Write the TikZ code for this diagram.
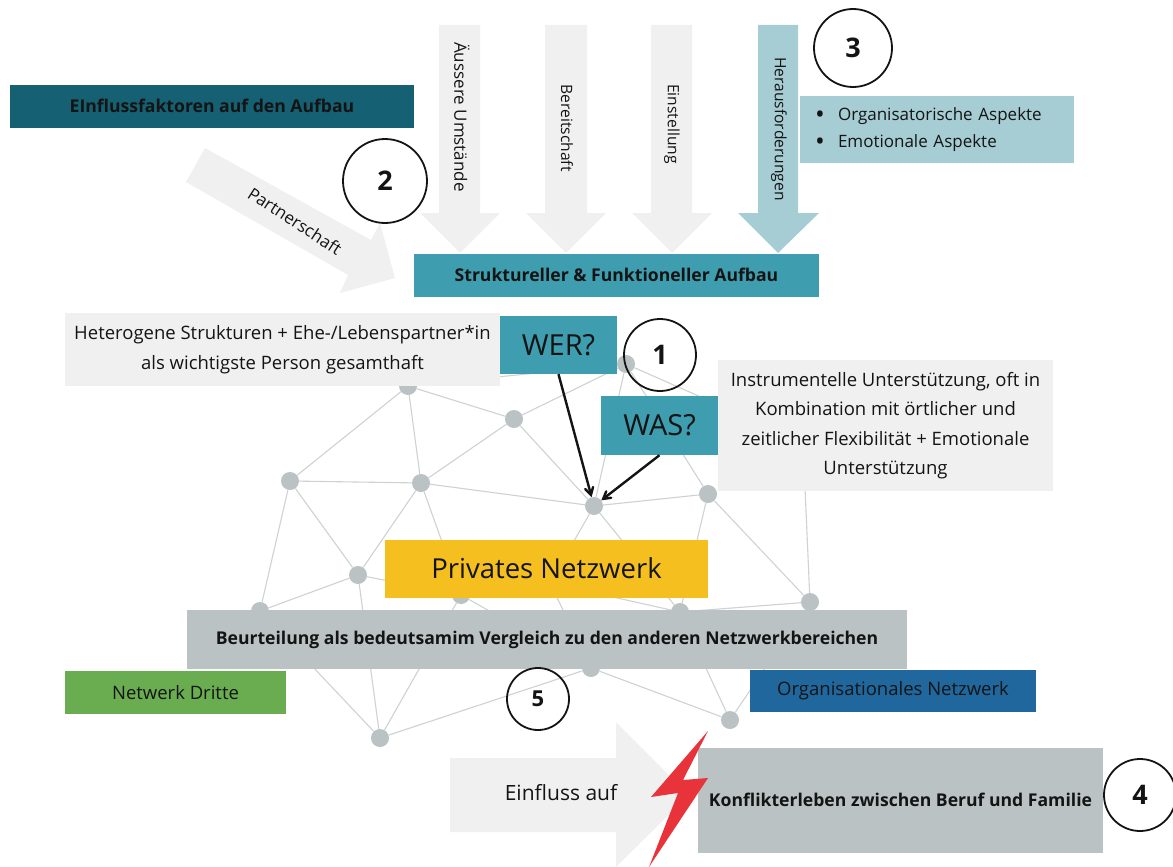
\documentclass[tikz,border=0pt]{standalone}
\usepackage{fontspec}
\setmainfont{Open Sans}
\usetikzlibrary{arrows}
\usetikzlibrary{positioning}
\definecolor{lightgray}{HTML}{F0F0F0}
\definecolor{darkteal}{HTML}{156072}
\definecolor{midteal}{HTML}{3E9DAE}
\definecolor{paleteal}{HTML}{A5CDD3}
\definecolor{netgray}{HTML}{BAC2C4}
\definecolor{netline}{HTML}{CDD2D3}
\definecolor{amber}{HTML}{F4BF1F}
\definecolor{leafgreen}{HTML}{6AAD51}
\definecolor{deepblue}{HTML}{20679E}
\definecolor{boltred}{HTML}{E8333A}
\definecolor{inkblack}{HTML}{141414}
\newcommand{\bigbullet}{\hspace*{15pt}\makebox[23pt][l]{\raisebox{-3pt}{\fontsize{26}{26}\selectfont•}}}
\begin{document}
\begin{tikzpicture}[
x=1pt, y=-1pt,
box/.style={rectangle, inner sep=0pt, align=center, text=inkblack},
normaltext/.style={font=\fontsize{18.5}{29.5}\selectfont},
boldtext/.style={font=\fontsize{17.6}{20}\selectfont\bfseries},
bigtext/.style={font=\fontsize{27.5}{30}\selectfont},
arrowtext/.style={inner sep=0pt, text=inkblack, font=\fontsize{15.6}{18}\selectfont},
netnode/.style={circle, fill=netgray, inner sep=0pt, minimum size=18pt},
edge/.style={draw=netline, line width=1.1pt},
numnode/.style={circle, draw=inkblack, line width=1.8pt, inner sep=0pt, font=\fontsize{27}{30}\selectfont\bfseries, text=inkblack},
]
\useasboundingbox (0,0) rectangle (1173,867);
\node[netnode](n1) at (626,364){};
\node[netnode](n2) at (408,386){};
\node[netnode](n3) at (514,419){};
\node[netnode](n4) at (290,481){};
\node[netnode](n5) at (421,483){};
\node[netnode](n6) at (594,506){};
\node[netnode](n7) at (708,494){};
\node[netnode](n8) at (358,575){};
\node[netnode](n9) at (461,595){};
\node[netnode](n10) at (260,611){};
\node[netnode](n11) at (680,612){};
\node[netnode](n12) at (810,602){};
\node[netnode](n13) at (591,668){};
\node[netnode](n14) at (380,738){};
\node[netnode](n15) at (730,720){};
\coordinate (n16) at (803,442);
\coordinate (n17) at (550,583);
\foreach \a/\b in {1/2,1/3,1/6,1/7,1/16,2/3,2/4,2/5,3/5,3/6,4/5,4/8,4/10,5/6,5/8,5/9,6/7,6/11,6/17,7/11,7/12,8/9,8/10,8/14,9/13,9/14,10/14,11/12,11/15,11/17,12/15,12/16,13/14,13/15,17/13}
  \draw[edge] (n\a) -- (n\b);
% arrows on top
\fill[lightgray] (439,25) -- (480,25) -- (480,213) -- (500,213) -- (460,253) -- (420,213) -- (439,213) -- cycle;
\fill[lightgray] (545,25) -- (587,25) -- (587,213) -- (606,213) -- (566,253) -- (526,213) -- (545,213) -- cycle;
\fill[lightgray] (651,25) -- (692,25) -- (692,213) -- (712,213) -- (672,253) -- (632,213) -- (651,213) -- cycle;
\fill[paleteal] (758,25) -- (798,25) -- (798,213) -- (819,213) -- (778,253) -- (738,213) -- (758,213) -- cycle;
\fill[lightgray] (205,148) -- (371,240) -- (380,223) -- (395,278) -- (340,293) -- (348,275) -- (186,182) -- cycle;
\fill[lightgray] (450,758) -- (616,758) -- (616,722) -- (689,795) -- (616,867) -- (616,832) -- (450,832) -- cycle;
\node[arrowtext, rotate=-90, font=\fontsize{17}{18}\selectfont](umstaende) at (462,117){Äussere Umstände};
\node[arrowtext, rotate=-90](bereitschaft) at (567,128){Bereitschaft};
\node[arrowtext, rotate=-90](einstellung) at (672,124){Einstellung};
\node[arrowtext, rotate=-90](herausforderungen) at (779,129){Herausforderungen};
\node[arrowtext, rotate=-33, font=\fontsize{17}{18}\selectfont](partnerschaft) at (295,221){Partnerschaft};
\node[box, font=\fontsize{21}{24}\selectfont](einfluss) at (561,793){Einfluss auf};
% boxes
\node[box, boldtext, fill=darkteal, minimum width=404pt, minimum height=43pt](faktoren) at (212,106.5){\raisebox{2pt}{EInflussfaktoren auf den Aufbau}};
\node[box, boldtext, fill=midteal, minimum width=405pt, minimum height=43pt](aufbau) at (616.5,275.5){\raisebox{2pt}{Struktureller \& Funktioneller Aufbau}};
\node[box, normaltext, fill=paleteal, text width=274pt, minimum height=67pt, align=left, font=\fontsize{17}{27}\selectfont](aspekte) at (937,129.5){\bigbullet Organisatorische Aspekte\\\bigbullet Emotionale Aspekte};
\node[box, normaltext, fill=lightgray, minimum width=435pt, minimum height=73pt](hetero) at (282.5,349.5){Heterogene Strukturen + Ehe-/Lebenspartner*in\\als wichtigste Person gesamthaft};
\node[box, bigtext, fill=midteal, minimum width=117pt, minimum height=58pt, font=\fontsize{29}{30}\selectfont](wer) at (558.5,345){\raisebox{-2pt}{WER?}};
\node[box, bigtext, fill=midteal, minimum width=117pt, minimum height=59pt, font=\fontsize{29}{30}\selectfont](was) at (659.5,425.5){\raisebox{-2pt}{WAS?}};
\node[box, normaltext, fill=lightgray, minimum width=335pt, minimum height=131pt](instrument) at (885.5,425.5){Instrumentelle Unterstützung, oft in\\Kombination mit örtlicher und\\zeitlicher Flexibilität + Emotionale\\Unterstützung};
\node[box, bigtext, fill=amber, minimum width=323pt, minimum height=58pt](privat) at (546.5,569){\raisebox{2pt}{Privates Netzwerk}};
\node[box, boldtext, fill=netgray, minimum width=720pt, minimum height=59pt](beurteilung) at (547,639.5){\raisebox{2pt}{Beurteilung als bedeutsamim Vergleich zu den anderen Netzwerkbereichen}};
\node[box, normaltext, fill=leafgreen, minimum width=221pt, minimum height=43pt](dritte) at (175.5,692.5){Netwerk Dritte};
\node[box, normaltext, fill=deepblue, minimum width=286pt, minimum height=42pt](orga) at (893,691){\raisebox{2pt}{Organisationales Netzwerk}};
\node[box, boldtext, fill=netgray, minimum width=405pt, minimum height=105pt](konflikt) at (900.5,800.5){\raisebox{2pt}{Konflikterleben zwischen Beruf und Familie}};
\fill[boltred] (708,731) -- (651,797) -- (678,793) -- (649,867) -- (708,778) -- (683,780) -- cycle;
% numbers
\node[numnode, minimum size=72pt](c1) at (660,355){1};
\node[numnode, minimum size=84pt](c2) at (385,181){2};
\node[numnode, minimum size=78pt](c3) at (853,48){3};
\node[numnode, minimum size=72pt](c4) at (1140,795){4};
\node[numnode, minimum size=62pt, font=\fontsize{22}{26}\selectfont\bfseries](c5) at (538,699){5};
\draw[->, >=angle 60, line width=2.4pt, inkblack] (wer.south) -- (n6);
\draw[->, >=angle 60, line width=2.4pt, inkblack] (was.south) -- (n6);
\end{tikzpicture}
\end{document}
